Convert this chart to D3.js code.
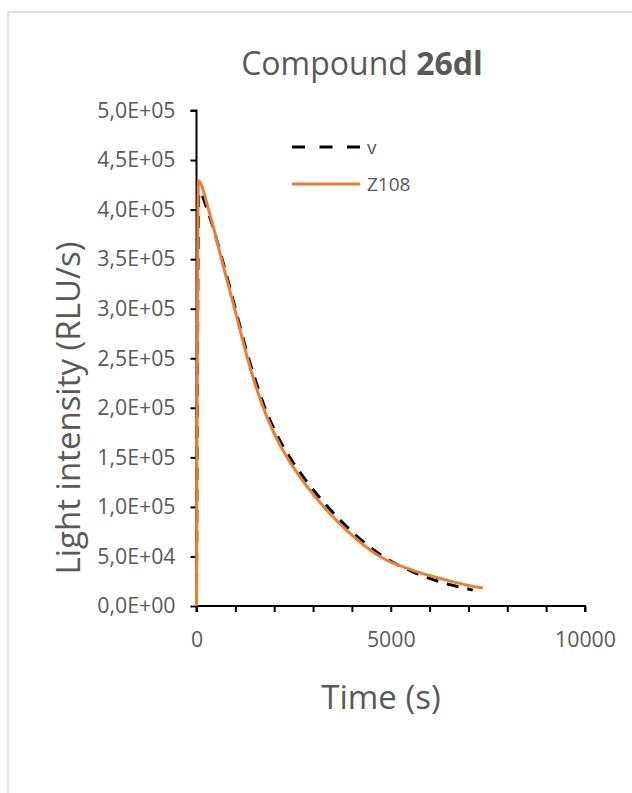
<!DOCTYPE html>
<html><head><meta charset="utf-8">
<script src="https://cdn.jsdelivr.net/npm/d3@7"></script>
<style>body{margin:0;background:#fff;}svg{display:block;font-family:"Open Sans",sans-serif;}</style>
</head><body><svg id="c" width="632" height="793"></svg>
<script>
const title = ["Compound ", "26dl"];
const seriesNames = ["v", "Z108"];
const xTicks = [0, 5000, 10000];
const yTicks = [0, 50000, 100000, 150000, 200000, 250000, 300000, 350000, 400000, 450000, 500000];
const yTickLabels = ["0,0E+00","5,0E+04","1,0E+05","1,5E+05","2,0E+05","2,5E+05","3,0E+05","3,5E+05","4,0E+05","4,5E+05","5,0E+05"];
// series v (black dashed)
const vTime =  [0, 60, 320, 660, 1000, 1340, 1540, 1760, 2040, 2400, 2850, 3380, 4000, 4800, 5600, 6300, 6950, 7110];
const vValue = [0, 418000, 395000, 350000, 300000, 250000, 225000, 200000, 175000, 150000, 125000, 100000, 75000, 50000, 34000, 24000, 17500, 16000];
// series Z108 (orange)
const zTime =  [0, 50, 310, 645, 980, 1314, 1500, 1720, 1990, 2330, 2760, 3280, 3900, 4720, 5567, 6263, 6959, 7371];
const zValue = [0, 429000, 400000, 350000, 300000, 250000, 225000, 200000, 175000, 150000, 125000, 100000, 75000, 50000, 36000, 28000, 21000, 18200];

const svg = d3.select("#c");
svg.append("rect").attr("x",8).attr("y",12).attr("width",640).attr("height",800)
  .attr("fill","none").attr("stroke","#d9d9d9").attr("stroke-width",1.5);

const x = d3.scaleLinear().domain([0,10000]).range([196.5,585]);
const y = d3.scaleLinear().domain([0,500000]).range([606,110.5]);
const txt = "#595959";

const t = svg.append("text").attr("x",362).attr("y",75).attr("text-anchor","middle")
  .attr("fill",txt).attr("font-size",32);
t.append("tspan").text(title[0]);
t.append("tspan").attr("font-weight","bold").text(title[1]);

const ya = svg.append("g").attr("transform",`translate(${x(0)},0)`)
  .call(d3.axisLeft(y).tickValues(yTicks).tickSize(6).tickFormat((d,i)=>yTickLabels[i]).tickPadding(15));
ya.select(".domain").attr("stroke","#000").attr("stroke-width",2).attr("d",`M-6,${y(500000)}H0V${y(0)}`);
ya.selectAll(".tick line").attr("stroke","#000").attr("stroke-width",2);
ya.selectAll(".tick text").attr("fill",txt).attr("font-size",21.3).attr("font-family","Open Sans");

const xa = svg.append("g").attr("transform",`translate(0,${y(0)})`)
  .call(d3.axisBottom(x).ticks(10).tickSize(6).tickFormat(d=>xTicks.includes(d)?d:"").tickPadding(20));
xa.select(".domain").attr("stroke","#000").attr("stroke-width",2).attr("d",`M${x(0)},6V0H${x(10000)}V6`);
xa.selectAll(".tick line").attr("stroke","#000").attr("stroke-width",2);
xa.selectAll(".tick text").attr("fill",txt).attr("font-size",21.3).attr("font-family","Open Sans");

svg.append("text").attr("x",381).attr("y",709).attr("text-anchor","middle").attr("fill",txt)
  .attr("font-size",33).text("Time (s)");
svg.append("text").attr("transform","translate(80,408) rotate(-90)").attr("text-anchor","middle").attr("fill",txt)
  .attr("font-size",33).text("Light intensity (RLU/s)");

const line = d3.line().x(d=>x(d[0])).y(d=>y(d[1])).curve(d3.curveMonotoneX);
const vData = vTime.map((tt,i)=>[tt,vValue[i]]);
const zData = zTime.map((tt,i)=>[tt,zValue[i]]);
svg.append("path").datum(vData).attr("d",line).attr("fill","none").attr("stroke","#000")
  .attr("stroke-width",3).attr("stroke-dasharray","12,9");
svg.append("path").datum(zData).attr("d",line).attr("fill","none").attr("stroke","#ED7D31")
  .attr("stroke-width",3).attr("stroke-linejoin","round");

const lg = svg.append("g");
lg.append("line").attr("x1",292).attr("x2",360).attr("y1",147).attr("y2",147)
  .attr("stroke","#000").attr("stroke-width",3).attr("stroke-dasharray","13,14.5");
lg.append("text").attr("x",367).attr("y",147).attr("dy","0.35em").attr("fill",txt).attr("font-size",19).text(seriesNames[0]);
lg.append("line").attr("x1",292).attr("x2",360).attr("y1",184).attr("y2",184)
  .attr("stroke","#ED7D31").attr("stroke-width",3);
lg.append("text").attr("x",367).attr("y",184).attr("dy","0.35em").attr("fill",txt).attr("font-size",19).text(seriesNames[1]);
</script></body></html>
